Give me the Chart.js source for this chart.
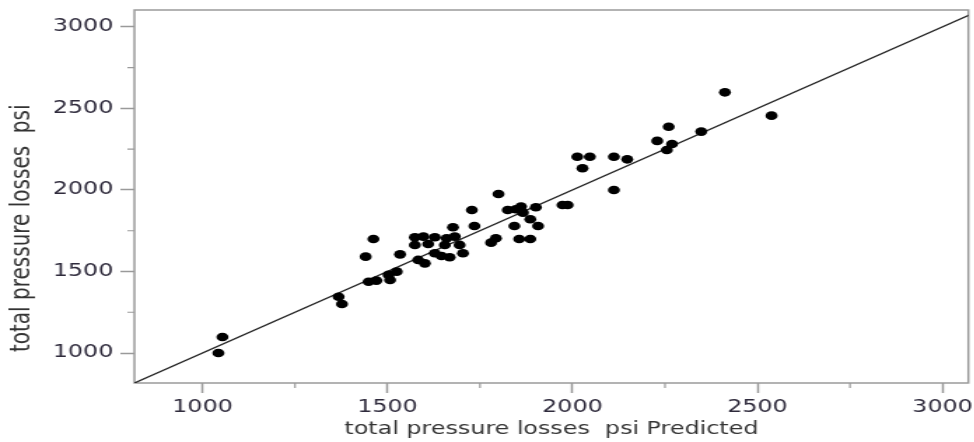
<!DOCTYPE html>
<html lang="en">
<head>
<meta charset="UTF-8">
<title>total pressure losses psi</title>
<style>
  html, body { margin: 0; padding: 0; background: #fff; overflow: hidden; }
  /* the source picture is stretched sideways, so the whole chart is too */
  #wrap { width: 696px; height: 442px; transform: scaleX(1.4); transform-origin: 0 0; }
</style>
</head>
<body>
<div id="wrap"><canvas id="chart" width="696" height="442" style="width:696px;height:442px"></canvas></div>
<script src="https://cdn.jsdelivr.net/npm/chart.js@4/dist/chart.umd.min.js"></script>
<script>
    // predicted (x) and actual (y) total pressure losses, psi
    var predicted = [1043, 1054, 1368, 1377, 1441, 1462, 1449, 1470, 1503, 1507,
                     1525, 1534, 1574, 1597, 1574, 1628, 1660, 1682, 1695, 1610,
                     1583, 1601, 1628, 1646, 1668, 1704, 1677, 1735, 1655, 1800,
                     1728, 1825, 1861, 1866, 1901, 1843, 1886, 1907, 1780, 1793,
                     1856, 1886, 1847, 1973, 1987, 2013, 2047, 2027, 2112, 2148,
                     2112, 2229, 2269, 2255, 2260, 2348, 2412, 2538];
    var actual    = [1000, 1098, 1345, 1301, 1591, 1699, 1437, 1444, 1479, 1448,
                     1499, 1605, 1710, 1714, 1663, 1710, 1704, 1714, 1663, 1669,
                     1571, 1550, 1612, 1595, 1587, 1612, 1771, 1779, 1663, 1975,
                     1877, 1877, 1898, 1861, 1894, 1779, 1820, 1779, 1677, 1704,
                     1699, 1699, 1882, 1908, 1908, 2204, 2204, 2133, 2204, 2188,
                     2000, 2301, 2282, 2245, 2388, 2358, 2599, 2456];
    var majorTicks = [1000, 1500, 2000, 2500, 3000];
    var minorTicks = [1250, 1750, 2250, 2750];
    var axisMin = 816;
    var xMax = 3070;
    var yMax = 3104;

    var points = [];
    for (var i = 0; i < predicted.length; i++) {
        points.push({x: predicted[i], y: actual[i]});
    }

    var frameColor = '#9a9a9a';
    var labelColor = '#2f2b3c';

    var framePlugin = {
        id: 'frame',
        beforeDatasetsDraw: function (chart) {
            var a = chart.chartArea, ctx = chart.ctx;
            ctx.save();
            ctx.strokeStyle = frameColor;
            ctx.lineWidth = 1.5;
            ctx.strokeRect(a.left, a.top, a.right - a.left, a.bottom - a.top);
            ctx.restore();
        },
        afterDraw: function (chart) {
            var a = chart.chartArea, ctx = chart.ctx;
            var sx = chart.scales.x, sy = chart.scales.y;
            ctx.save();
            ctx.strokeStyle = frameColor;
            ctx.lineWidth = 1.2;
            ctx.beginPath();
            minorTicks.forEach(function (v) {
                var px = sx.getPixelForValue(v);
                ctx.moveTo(px, a.bottom);
                ctx.lineTo(px, a.bottom + 5);
                var py = sy.getPixelForValue(v);
                ctx.moveTo(a.left, py);
                ctx.lineTo(a.left - 5, py);
            });
            ctx.stroke();
            ctx.restore();
        }
    };

    function tickList(scale) {
        scale.ticks = majorTicks.map(function (v) { return {value: v}; });
    }

    new Chart(document.getElementById('chart'), {
        type: 'scatter',
        data: {
            datasets: [
                {
                    data: points,
                    backgroundColor: '#000',
                    borderWidth: 0,
                    pointRadius: 4.3,
                    order: 0
                },
                {
                    data: [{x: axisMin, y: axisMin}, {x: yMax, y: yMax}],
                    showLine: true,
                    borderColor: '#222',
                    borderWidth: 1.3,
                    pointRadius: 0,
                    order: 1
                }
            ]
        },
        options: {
            responsive: false,
            animation: false,
            layout: {padding: {top: 10, right: 1, left: 0, bottom: 0}},
            plugins: {legend: {display: false}, tooltip: {enabled: false}},
            scales: {
                x: {
                    type: 'linear',
                    min: axisMin,
                    max: xMax,
                    afterBuildTicks: tickList,
                    afterFit: function (s) { s.height = 59; s.paddingLeft = 0; s.paddingRight = 0; },
                    border: {display: false},
                    grid: {drawOnChartArea: false, tickLength: 10, tickColor: frameColor, tickWidth: 1.5},
                    ticks: {padding: 4, color: labelColor, font: {family: 'DejaVu Sans', size: 17},
                            maxRotation: 0, callback: function (v) { return String(v); }},
                    title: {display: true, text: 'total pressure losses  psi Predicted', color: '#333',
                            font: {family: 'DejaVu Sans', size: 17}, padding: {top: 0, bottom: 2}}
                },
                y: {
                    type: 'linear',
                    min: axisMin,
                    max: yMax,
                    afterBuildTicks: tickList,
                    afterFit: function (s) { s.width = 96; s.paddingTop = 0; s.paddingBottom = 0; },
                    border: {display: false},
                    grid: {drawOnChartArea: false, tickLength: 10, tickColor: frameColor, tickWidth: 1.5},
                    ticks: {padding: 5, color: labelColor, font: {family: 'DejaVu Sans', size: 17},
                            callback: function (v) { return String(v); }},
                    // trailing spaces push the rotated title down, as in the source
                    title: {display: true, text: 'total pressure losses  psi          ', color: '#333',
                            font: {family: 'DejaVu Sans', size: 20}, padding: {top: 4, bottom: 0}}
                }
            }
        },
        plugins: [framePlugin]
    });
</script>
</body>
</html>
